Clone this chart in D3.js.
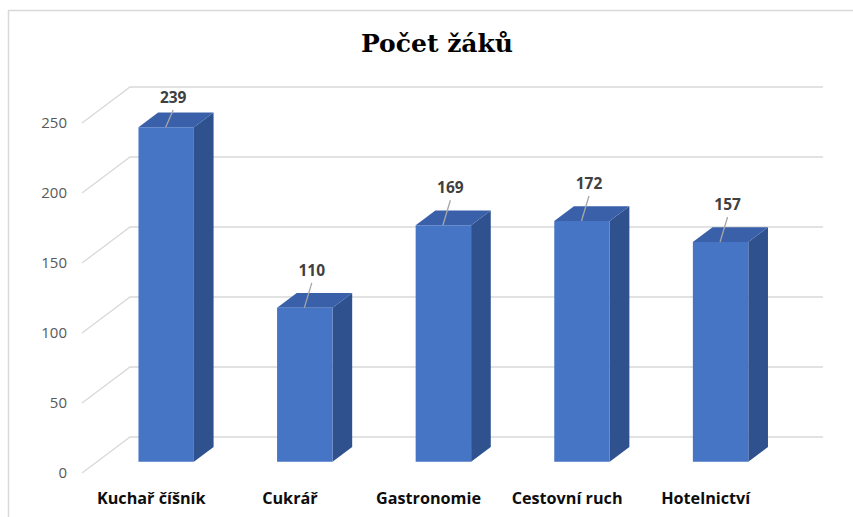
<!DOCTYPE html>
<html>
<head>
<meta charset="utf-8">
<script src="https://cdn.jsdelivr.net/npm/d3@7"></script>
<style>
  html, body { margin: 0; padding: 0; background: #fff; }
  svg { display: block; }
</style>
</head>
<body>
<script>
const categories = ["Kuchař číšník", "Cukrář", "Gastronomie", "Cestovní ruch", "Hotelnictví"];
const values = [239, 110, 169, 172, 157];
const yTicks = [0, 50, 100, 150, 200, 250];
const title = "Počet žáků";

const W = 853, H = 517;
const svg = d3.select("body").append("svg").attr("width", W).attr("height", H);

// chart-area border (top & left visible, rest cropped)
svg.append("path")
  .attr("d", "M8.5,600 V10.5 H900")
  .attr("fill", "none").attr("stroke", "#d9d9d9").attr("stroke-width", 1.5);

// oblique 3D projection: depth 0 (front) .. 1 (back wall)
const DX = 48, DY = 36;
const x = d3.scaleBand().domain(categories).range([82, 775]).paddingInner(0.6).paddingOuter(0.3);
const xc = d3.scaleBand().domain(categories).range([82, 775]).padding(0);
const y = d3.scaleLinear().domain([0, 250]).range([473, 123]);
const P = (px, py, d) => [px + DX * d, py - DY * d];

// gridlines: side wall diagonal + back wall horizontal
const grid = svg.append("g").attr("stroke", "#d9d9d9").attr("stroke-width", 1.3).attr("fill", "none");
yTicks.forEach(t => {
  const f = [82, y(t)];
  const b = P(82, y(t), 1);
  const e = P(775, y(t), 1);
  grid.append("path").attr("d", `M${f[0]},${f[1]} L${b[0]},${b[1]} L${e[0]},${e[1]}`);
});

// y tick labels
svg.append("g").selectAll("text").data(yTicks).join("text")
  .attr("x", 67).attr("y", d => y(d)).attr("dy", "0.36em")
  .attr("text-anchor", "end")
  .attr("font-family", "Open Sans, sans-serif").attr("font-size", 15)
  .attr("fill", "#595959")
  .text(d => d);

// bars
const d1 = 0.31, d2 = 0.72;
const bars = svg.append("g");
categories.forEach((c, i) => {
  const v = values[i];
  const x0 = x(c), x1 = x(c) + x.bandwidth();
  const yb = y(0), yt = y(v);
  const fl = P(x0, yt, d1), fr = P(x1, yt, d1), frb = P(x1, yb, d1), flb = P(x0, yb, d1);
  const bl = P(x0, yt, d2), br = P(x1, yt, d2), brb = P(x1, yb, d2);
  // side
  bars.append("path").attr("d", `M${fr}L${br}L${brb}L${frb}Z`).attr("fill", "#2f528f");
  // top
  bars.append("path").attr("d", `M${fl}L${bl}L${br}L${fr}Z`).attr("fill", "#3a60a9");
  // front
  bars.append("path").attr("d", `M${fl}L${fr}L${frb}L${flb}Z`).attr("fill", "#4675c6");

  // data label with leader line
  const cx = (fl[0] + fr[0]) / 2, top = fl[1];
  const base = Math.max(top - 32, 103);
  const lx = cx + 7;
  bars.append("line")
    .attr("x1", cx - 0.5).attr("y1", top)
    .attr("x2", lx).attr("y2", base + 7)
    .attr("stroke", "#a6a6a6").attr("stroke-width", 1.3);
  bars.append("text")
    .attr("x", lx).attr("y", base)
    .attr("text-anchor", "middle")
    .attr("font-family", "Open Sans, sans-serif").attr("font-weight", "bold").attr("font-size", 15.5)
    .attr("fill", "#404040")
    .text(v);
});

// category labels
svg.append("g").selectAll("text").data(categories).join("text")
  .attr("x", d => xc(d) + xc.bandwidth() / 2).attr("y", 504)
  .attr("text-anchor", "middle")
  .attr("font-family", "Open Sans, sans-serif").attr("font-weight", "bold").attr("font-size", 16.2)
  .attr("fill", "#0d0d0d")
  .text(d => d);

// title
svg.append("text")
  .attr("x", 437).attr("y", 52)
  .attr("text-anchor", "middle")
  .attr("font-family", "DejaVu Serif, serif").attr("font-weight", "bold").attr("font-size", 25)
  .attr("fill", "#000")
  .text(title);
</script>
</body>
</html>
